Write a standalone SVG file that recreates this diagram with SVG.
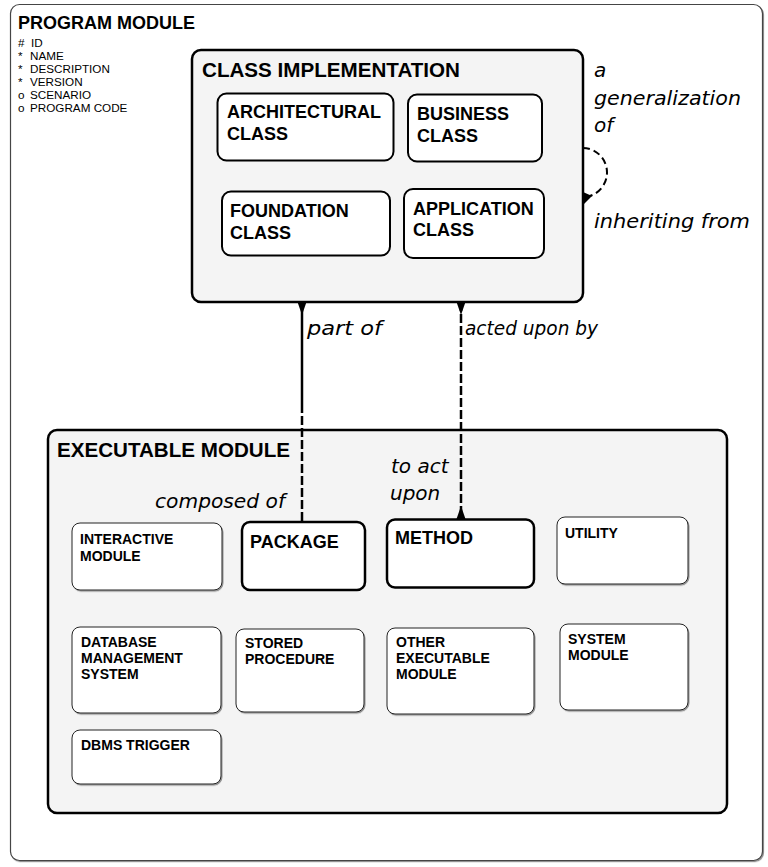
<svg xmlns="http://www.w3.org/2000/svg" width="768" height="867" viewBox="0 0 768 867">
<style>
.b{font-family:"Liberation Sans",Arial,sans-serif;font-weight:bold;fill:#000}
.t20{font-size:20px}
.t18{font-size:18px}
.t14{font-size:14px}
.attr{font-family:"Liberation Sans",Arial,sans-serif;font-size:11.7px;fill:#000}
.c{font-family:"DejaVu Sans",sans-serif;font-style:italic;font-size:20px;fill:#000}
.outer{fill:#fff;stroke:#444;stroke-width:1.2}
.grp{fill:#f4f4f4;stroke:#000;stroke-width:2.5}
.cls{fill:#fff;stroke:#000;stroke-width:2}
.thin{fill:#fff;stroke:#222;stroke-width:1}
.thick{fill:#fff;stroke:#000;stroke-width:2.5}
.solid{fill:none;stroke:#000;stroke-width:2.5}
.dash{fill:none;stroke:#000;stroke-width:2.5;stroke-dasharray:9 3}
.loop{fill:none;stroke:#000;stroke-width:2;stroke-dasharray:7 4}
.head{fill:#000;stroke:none}
</style>
<defs>
<filter id="sh" x="-5%" y="-5%" width="110%" height="115%">
<feDropShadow dx="1" dy="1.2" stdDeviation="0.6" flood-color="#777" flood-opacity="0.8"/>
</filter>
</defs>

<g id="program-module">
<rect class="outer" x="10.5" y="4.5" width="752" height="856" rx="9" filter="url(#sh)"/>
<text class="b" x="18" y="29" style="font-size:19px" textLength="177" lengthAdjust="spacingAndGlyphs">PROGRAM MODULE</text>
<text class="attr" y="47"><tspan x="18">#</tspan><tspan x="31">ID</tspan></text>
<text class="attr" y="60"><tspan x="18">*</tspan><tspan x="30">NAME</tspan></text>
<text class="attr" y="73"><tspan x="18">*</tspan><tspan x="30">DESCRIPTION</tspan></text>
<text class="attr" y="86"><tspan x="18">*</tspan><tspan x="30">VERSION</tspan></text>
<text class="attr" y="99"><tspan x="18">o</tspan><tspan x="30">SCENARIO</tspan></text>
<text class="attr" y="112"><tspan x="18">o</tspan><tspan x="30">PROGRAM CODE</tspan></text>
</g>

<g id="class-implementation">
<rect class="grp" x="192" y="50" width="391" height="252" rx="9"/>
<text class="b t20" x="202" y="77" textLength="258" lengthAdjust="spacingAndGlyphs">CLASS IMPLEMENTATION</text>
</g>

<g id="architectural-class">
<rect class="cls" x="217.5" y="93.5" width="176" height="67" rx="9"/>
<text class="b t18" x="227" y="118">ARCHITECTURAL</text>
<text class="b t18" x="227" y="140">CLASS</text>
</g>
<g id="business-class">
<rect class="cls" x="408" y="94.5" width="134" height="67" rx="9"/>
<text class="b t18" x="417" y="120">BUSINESS</text>
<text class="b t18" x="417" y="142">CLASS</text>
</g>
<g id="foundation-class">
<rect class="cls" x="222" y="191.5" width="168" height="64" rx="9"/>
<text class="b t18" x="230" y="217">FOUNDATION</text>
<text class="b t18" x="230" y="239">CLASS</text>
</g>
<g id="application-class">
<rect class="cls" x="404" y="189" width="140" height="69" rx="9"/>
<text class="b t18" x="413" y="215">APPLICATION</text>
<text class="b t18" x="413" y="236">CLASS</text>
</g>

<g id="executable-module">
<rect class="grp" x="48" y="430" width="679" height="383" rx="9"/>
<text class="b t20" x="57" y="457" textLength="233" lengthAdjust="spacingAndGlyphs">EXECUTABLE MODULE</text>
</g>

<g id="interactive-module">
<rect class="thin" x="72" y="523" width="150" height="67" rx="8" filter="url(#sh)"/>
<text class="b t14" x="80" y="544">INTERACTIVE</text>
<text class="b t14" x="80" y="561">MODULE</text>
</g>
<g id="package">
<rect class="thick" x="242" y="522" width="123" height="68" rx="8"/>
<text class="b t18" x="250" y="548">PACKAGE</text>
</g>
<g id="method">
<rect class="thick" x="387" y="519.5" width="147" height="68" rx="8"/>
<text class="b t18" x="395" y="544">METHOD</text>
</g>
<g id="utility">
<rect class="thin" x="557" y="517" width="131" height="67" rx="8" filter="url(#sh)"/>
<text class="b t14" x="565" y="538">UTILITY</text>
</g>
<g id="database-management-system">
<rect class="thin" x="72" y="627" width="149" height="86" rx="8" filter="url(#sh)"/>
<text class="b t14" x="81" y="647">DATABASE</text>
<text class="b t14" x="81" y="663">MANAGEMENT</text>
<text class="b t14" x="81" y="679">SYSTEM</text>
</g>
<g id="stored-procedure">
<rect class="thin" x="236" y="629" width="128" height="83" rx="8" filter="url(#sh)"/>
<text class="b t14" x="245" y="648">STORED</text>
<text class="b t14" x="245" y="664">PROCEDURE</text>
</g>
<g id="other-executable-module">
<rect class="thin" x="387" y="628" width="147" height="86" rx="8" filter="url(#sh)"/>
<text class="b t14" x="396" y="647">OTHER</text>
<text class="b t14" x="396" y="663">EXECUTABLE</text>
<text class="b t14" x="396" y="679">MODULE</text>
</g>
<g id="system-module">
<rect class="thin" x="560" y="624" width="128" height="86" rx="8" filter="url(#sh)"/>
<text class="b t14" x="568" y="644">SYSTEM</text>
<text class="b t14" x="568" y="660">MODULE</text>
</g>
<g id="dbms-trigger">
<rect class="thin" x="72" y="730" width="149" height="54" rx="8" filter="url(#sh)"/>
<text class="b t14" x="81" y="750">DBMS TRIGGER</text>
</g>

<g id="connectors">
<path class="loop" d="M583,148 A24,24.5 0 0 1 583,197"/>
<polygon class="head" points="583,192 592,196 583,205"/>
<text class="c" x="594" y="77">a</text>
<text class="c" x="594" y="105" textLength="147" lengthAdjust="spacingAndGlyphs">generalization</text>
<text class="c" x="594" y="132">of</text>
<text class="c" x="594" y="228" textLength="156" lengthAdjust="spacingAndGlyphs">inheriting from</text>

<line class="solid" x1="302" y1="302" x2="302" y2="413"/>
<line class="dash" x1="302" y1="416" x2="302" y2="522"/>
<polygon class="head" points="297.5,302 306.5,302 302,315"/>
<text class="c" x="307" y="335" textLength="75" lengthAdjust="spacingAndGlyphs">part of</text>
<text class="c" x="155" y="508" textLength="130" lengthAdjust="spacingAndGlyphs">composed of</text>

<line class="dash" x1="461" y1="302" x2="461" y2="519"/>
<polygon class="head" points="456.5,302 465.5,302 461,315"/>
<polygon class="head" points="456.5,519 465.5,519 461,506"/>
<text class="c" x="465" y="335" textLength="133" lengthAdjust="spacingAndGlyphs">acted upon by</text>
<text class="c" x="391" y="473">to act</text>
<text class="c" x="390" y="500">upon</text>
</g>
</svg>
